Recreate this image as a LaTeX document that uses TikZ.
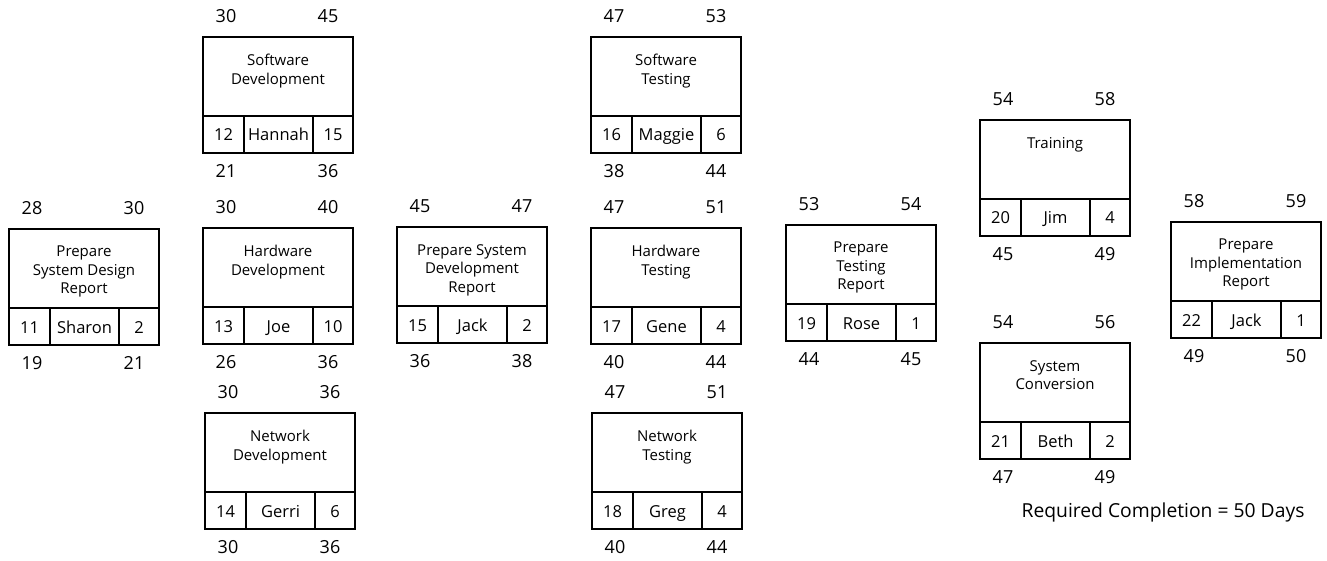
\documentclass[tikz,border=0pt]{standalone}
\usepackage{fontspec}
\setmainfont{Open Sans}
\usetikzlibrary{calc}
\tikzset{
  actbox/.style={draw, line width=1.8pt, minimum width=150pt, minimum height=116pt,
                 anchor=north west, inner sep=0pt, outer sep=0pt},
  divider/.style={line width=1.5pt},
  tasktitle/.style={anchor=north, align=center, inner sep=0pt,
                    font=\fontsize{15}{18.5}\selectfont},
  cell/.style={anchor=base, inner sep=0pt, font=\fontsize{16.5}{20}\selectfont},
  corner/.style={anchor=base, inner sep=0pt, font=\fontsize{18}{20}\selectfont},
  note/.style={anchor=center, inner sep=0pt, font=\fontsize{19.3}{22}\selectfont},
}
\begin{document}
\begin{tikzpicture}[x=1pt, y=-1pt]
  \useasboundingbox (0,0) rectangle (1327,561);
  % name / left / top / title / id / person / duration / top-left / top-right / bottom-left / bottom-right
  \foreach \nm/\px/\py/\ttl/\num/\who/\dur/\tl/\tr/\bl/\br in {
    psdr/9/229/{Prepare\\System Design\\Report}/11/Sharon/2/28/30/19/21,
    swd/203/37/{Software\\Development}/12/Hannah/15/30/45/21/36,
    hwd/203/228/{Hardware\\Development}/13/Joe/10/30/40/26/36,
    nwd/205/413/{Network\\Development}/14/Gerri/6/30/36/30/36,
    psdev/397/227/{Prepare System\\Development\\Report}/15/Jack/2/45/47/36/38,
    swt/591/37/{Software\\Testing}/16/Maggie/6/47/53/38/44,
    hwt/591/228/{Hardware\\Testing}/17/Gene/4/47/51/40/44,
    nwt/592/413/{Network\\Testing}/18/Greg/4/47/51/40/44,
    ptr/786/225/{Prepare\\Testing\\Report}/19/Rose/1/53/54/44/45,
    trn/980/120/{Training}/20/Jim/4/54/58/45/49,
    sc/980/343/{System\\Conversion}/21/Beth/2/54/56/47/49,
    pir/1171/222/{Prepare\\Implementation\\Report}/22/Jack/1/58/59/49/50}
  {
    \node[actbox] (\nm) at (\px,\py) {};
    % bottom row and its cells
    \draw[divider] ($(\nm.north west)+(0,79)$) -- ($(\nm.north east)+(0,79)$);
    \draw[divider] ($(\nm.north west)+(41,79)$) -- ($(\nm.south west)+(41,0)$);
    \draw[divider] ($(\nm.north west)+(110,79)$) -- ($(\nm.south west)+(110,0)$);
    \node[tasktitle] (\nm-title) at ($(\nm.north west)+(75,17)$) {\ttl};
    \node[cell] (\nm-id)  at ($(\nm.north west)+(20.5,104)$) {\num};
    \node[cell] (\nm-who) at ($(\nm.north west)+(75.5,104)$) {\who};
    \node[cell] (\nm-dur) at ($(\nm.north west)+(130,104)$) {\dur};
    % start and finish times
    \node[corner] (\nm-tl) at ($(\nm.north west)+(23,-14.5)$) {\tl};
    \node[corner] (\nm-tr) at ($(\nm.north west)+(125,-14.5)$) {\tr};
    \node[corner] (\nm-bl) at ($(\nm.north west)+(23,140.5)$) {\bl};
    \node[corner] (\nm-br) at ($(\nm.north west)+(125,140.5)$) {\br};
  }
  \node[note] (required) at (1163,512) {Required Completion = 50 Days};
\end{tikzpicture}
\end{document}
